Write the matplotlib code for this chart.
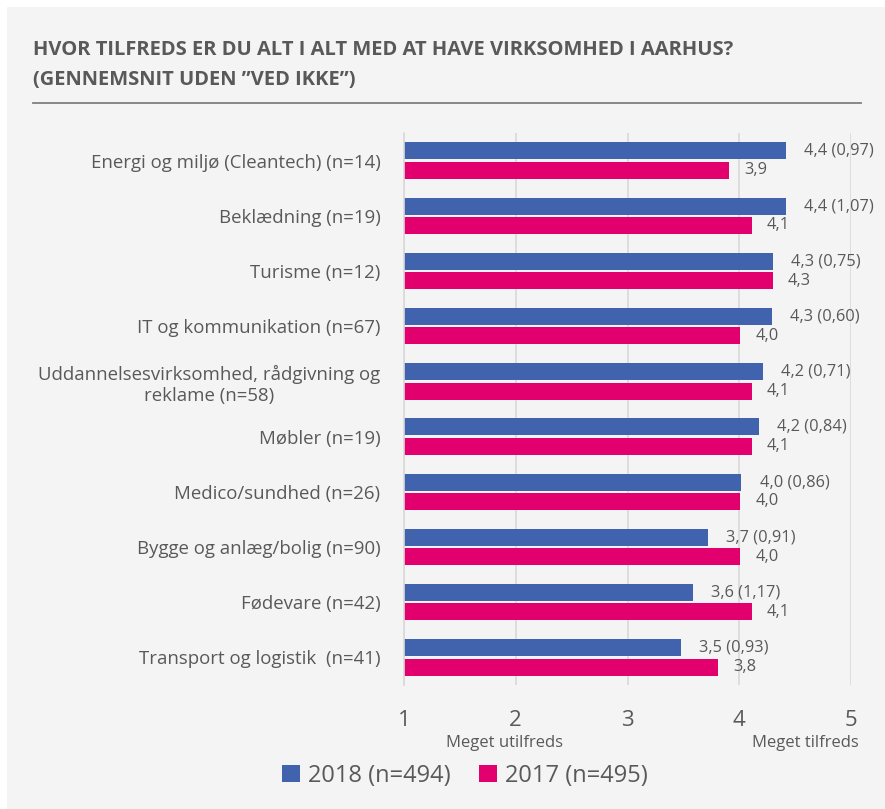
import matplotlib.pyplot as plt
import numpy as np

plt.rcParams['font.family'] = ['Open Sans', 'DejaVu Sans']

# Data
kategorier = [
    'Energi og miljø (Cleantech) (n=14)',
    'Beklædning (n=19)',
    'Turisme (n=12)',
    'IT og kommunikation (n=67)',
    'Uddannelsesvirksomhed, rådgivning og\nreklame (n=58)',
    'Møbler (n=19)',
    'Medico/sundhed (n=26)',
    'Bygge og anlæg/bolig (n=90)',
    'Fødevare (n=42)',
    'Transport og logistik  (n=41)',
]
gns_2018 = [4.42, 4.42, 4.30, 4.29, 4.21, 4.18, 4.02, 3.72, 3.59, 3.48]
std_2018 = ['0,97', '1,07', '0,75', '0,60', '0,71', '0,84', '0,86', '0,91', '1,17', '0,93']
gns_2017 = [3.91, 4.11, 4.30, 4.01, 4.11, 4.11, 4.01, 4.01, 4.11, 3.81]
label_2018 = ['4,4', '4,4', '4,3', '4,3', '4,2', '4,2', '4,0', '3,7', '3,6', '3,5']
label_2017 = ['3,9', '4,1', '4,3', '4,0', '4,1', '4,1', '4,0', '4,0', '4,1', '3,8']
serier = ['2018 (n=494)', '2017 (n=495)']

blaa = '#4163ae'
pink = '#e2006f'
tekst = '#595959'

fig = plt.figure(figsize=(8.85, 8.09), dpi=100)
fig.patch.set_facecolor('white')
# lys grå baggrund
fig.patches.append(plt.Rectangle((7 / 885, 0), 1, 1 - 7 / 809, transform=fig.transFigure,
                                 facecolor='#f4f4f4', edgecolor='none', zorder=-10))

ax = fig.add_axes([404 / 885, 1 - 685 / 809, (851 - 404) / 885, (685 - 133) / 809])
ax.set_facecolor('none')

y = np.arange(len(kategorier))
h = 0.31
b1 = ax.barh(y - h / 2 - 0.02, gns_2018, left=1, height=h, color=blaa, label=serier[0])
b2 = ax.barh(y + h / 2 + 0.02, gns_2017, left=1, height=h, color=pink, label=serier[1])
# barh med left=1: bredde skal være værdi - 1
for bars, vals in [(b1, gns_2018), (b2, gns_2017)]:
    for bar, v in zip(bars, vals):
        bar.set_width(v - 1)

for i in range(len(kategorier)):
    ax.annotate(f'{label_2018[i]} ({std_2018[i]})', (gns_2018[i], y[i] - h / 2 - 0.02),
                xytext=(13, 0), textcoords='offset points', va='center', ha='left',
                fontsize=11.8, color=tekst)
    ax.annotate(label_2017[i], (gns_2017[i], y[i] + h / 2 + 0.02),
                xytext=(11, 0), textcoords='offset points', va='center', ha='left',
                fontsize=11.8, color=tekst)

ax.set_xlim(1, 5)
ax.set_ylim(len(kategorier) - 0.5, -0.5)
ax.set_xticks([1, 2, 3, 4, 5])
ax.set_yticks(y)
ax.set_yticklabels(kategorier, fontsize=13.4, color=tekst, multialignment='center')
ax.tick_params(axis='y', length=0, pad=17)
ax.tick_params(axis='x', length=0, pad=18, labelsize=16, labelcolor=tekst)
ax.grid(axis='x', color='#d9d9d9', linewidth=1.2)
ax.set_axisbelow(True)
for s in ['top', 'right', 'bottom']:
    ax.spines[s].set_visible(False)
ax.spines['left'].set_color('#d9d9d9')
ax.spines['left'].set_linewidth(1.2)

# akse-forklaringer
fig.text(505 / 885, 1 - 743 / 809, 'Meget utilfreds', ha='center', va='center',
         fontsize=12, color=tekst)
fig.text(805 / 885, 1 - 743 / 809, 'Meget tilfreds', ha='center', va='center',
         fontsize=12, color=tekst)

# titel
fig.text(33 / 885, 1 - 50 / 809, 'HVOR TILFREDS ER DU ALT I ALT MED AT HAVE VIRKSOMHED I AARHUS?',
         ha='left', va='center', fontsize=14.5, fontweight='bold', color=tekst)
fig.text(33 / 885, 1 - 80 / 809, '(GENNEMSNIT UDEN \u201dVED IKKE\u201d)',
         ha='left', va='center', fontsize=14.5, fontweight='bold', color=tekst)
fig.add_artist(plt.Line2D([33 / 885, 861 / 885], [1 - 103 / 809, 1 - 103 / 809],
                          transform=fig.transFigure, color='#7f7f7f', linewidth=1.3))

leg = fig.legend(handles=[b1, b2], labels=serier, loc='center', ncol=2,
                 bbox_to_anchor=(465 / 885, 1 - 776 / 809), frameon=False,
                 fontsize=17, handlelength=0.75, handleheight=0.75, handletextpad=0.35,
                 columnspacing=1.2)
for t in leg.get_texts():
    t.set_color(tekst)

plt.savefig('out.png', dpi=100, facecolor=fig.get_facecolor())
